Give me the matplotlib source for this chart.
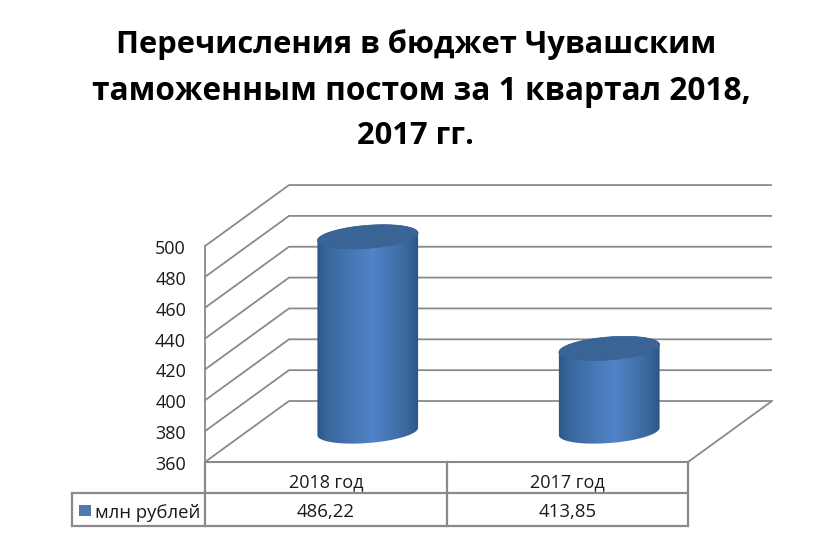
import numpy as np
import matplotlib
matplotlib.use("Agg")
import matplotlib.pyplot as plt
from matplotlib.colors import to_rgb
from matplotlib.patches import Polygon

plt.rcParams['font.family'] = ['Open Sans', 'DejaVu Sans']

title_lines = ["Перечисления в бюджет Чувашским", "таможенным постом за 1 квартал 2018,", "2017 гг."]
categories = ["2018 год", "2017 год"]
values = [486.22, 413.85]
value_labels = ["486,22", "413,85"]
series_name = "млн рублей"
ticks = [360, 380, 400, 420, 440, 460, 480, 500]

W, H = 832, 541
GRID = "#8a8a8a"
TXT = "#1a1a1a"

# scale of the chart, in pixels of the picture
X0, CAT_W = 205, 241.5
Y0, PX_PER_UNIT = 462, 1.5425
DX_PX, DY_PX = 84, 61
dx = DX_PX / CAT_W
dv = DY_PX / PX_PER_UNIT

fig = plt.figure(figsize=(W / 100, H / 100), dpi=100)
ax = fig.add_axes([0, 0, 1, 1])
xlim = (-X0 / CAT_W, (W - X0) / CAT_W)
ylim = (ticks[0] - (H - Y0) / PX_PER_UNIT, ticks[0] + Y0 / PX_PER_UNIT)
ax.axis("off")


def to_x(px):
    return (px - X0) / CAT_W


def to_v(py):
    return ticks[0] + (Y0 - py) / PX_PER_UNIT


# walls and floor
for t in ticks:
    ax.plot([0, dx, 2 + dx], [t, t + dv, t + dv], color=GRID, lw=1.3, solid_capstyle="butt", zorder=1)
    ax.text(to_x(186), t - 1 / PX_PER_UNIT, str(t), ha="right", va="center_baseline",
            fontsize=13, color=TXT)
ax.plot([0, 0], [ticks[0], ticks[-1]], color=GRID, lw=1.3, zorder=1)
ax.plot([2, 2 + dx], [ticks[0], ticks[0] + dv], color=GRID, lw=1.3, zorder=1)
ax.plot([0, 2], [ticks[0], ticks[0]], color=GRID, lw=1.5, zorder=1)

# cylinders
RX, RY, TILT = 50.5, 11.5, np.radians(4.5)


def ellipse(cx, cy, t):
    ex = RX * np.cos(t)
    ey = RY * np.sin(t)
    px = cx + ex * np.cos(TILT) + ey * np.sin(TILT)
    py = cy - ex * np.sin(TILT) + ey * np.cos(TILT)
    return to_x(px), to_v(py)


stops = np.array([0, 0.12, 0.55, 0.88, 1])
edge_cols = [to_rgb(c) for c in ["#2c5687", "#3a689f", "#5184c8", "#3a679d", "#2b5484"]]
grad = np.array([[np.interp(np.linspace(0, 1, 120), stops, [c[i] for c in edge_cols])
                  for i in range(3)]]).transpose(0, 2, 1)

for i, v in enumerate(values):
    front_px = X0 + (i + 0.5) * CAT_W
    cx = front_px + DX_PX / 2
    bottom_y = Y0 - DY_PX / 2
    top_y = Y0 - (v - ticks[0]) * PX_PER_UNIT - DY_PX / 2

    tt = np.linspace(0, np.pi, 60)
    bx, bv = ellipse(cx, bottom_y, np.pi - tt)
    tx, tv = ellipse(cx, top_y, -tt)
    body = Polygon(np.column_stack([np.r_[bx, tx], np.r_[bv, tv]]), closed=True,
                   transform=ax.transData, fc="none", ec="none")
    ax.add_patch(body)
    im = ax.imshow(grad, extent=(to_x(cx - RX - 1), to_x(cx + RX + 1), to_v(bottom_y + 16), to_v(top_y - 16)),
                   aspect="auto", zorder=3, interpolation="bilinear")
    im.set_clip_path(body)

    ex, ev = ellipse(cx, top_y, np.linspace(0, 2 * np.pi, 120))
    ax.add_patch(Polygon(np.column_stack([ex, ev]), closed=True, fc="#3b6496", ec="#3a6395", lw=0.5, zorder=4))

ax.set_xlim(xlim)
ax.set_ylim(ylim)

# data table
ROW1, ROW2, ROW3 = 462, 493, 526
LEFT = 72
tbl = dict(color=GRID, lw=1.6, solid_capstyle="projecting", zorder=2)
ax.plot([to_x(LEFT), 2], [to_v(ROW2), to_v(ROW2)], **tbl)
ax.plot([to_x(LEFT), 2], [to_v(ROW3), to_v(ROW3)], **tbl)
ax.plot([to_x(LEFT), to_x(LEFT)], [to_v(ROW2), to_v(ROW3)], **tbl)
for k in range(3):
    ax.plot([k, k], [to_v(ROW1), to_v(ROW3)], **tbl)
for k, (cat, lab) in enumerate(zip(categories, value_labels)):
    ax.text(k + 0.5, to_v(480), cat, ha="center", va="center_baseline", fontsize=13, color=TXT)
    ax.text(k + 0.5, to_v(510), lab, ha="center", va="center_baseline", fontsize=13.4, color=TXT)

ax.add_patch(Polygon([(to_x(79), to_v(505)), (to_x(91), to_v(505)), (to_x(91), to_v(516)), (to_x(79), to_v(516))],
                     closed=True, fc="#4f79ab", ec="none", zorder=3))
ax.text(to_x(95), to_v(511), series_name, ha="left", va="center_baseline", fontsize=13.3, color=TXT)

for line, cx, cy, size in zip(title_lines, [416.5, 421, 415.5], [41, 87, 133], [22.2, 22.8, 22.2]):
    ax.text(to_x(cx), to_v(cy), line, ha="center", va="center_baseline", fontsize=size,
            fontweight="bold", color="black")

fig.savefig("out.png", dpi=100, facecolor="white")
